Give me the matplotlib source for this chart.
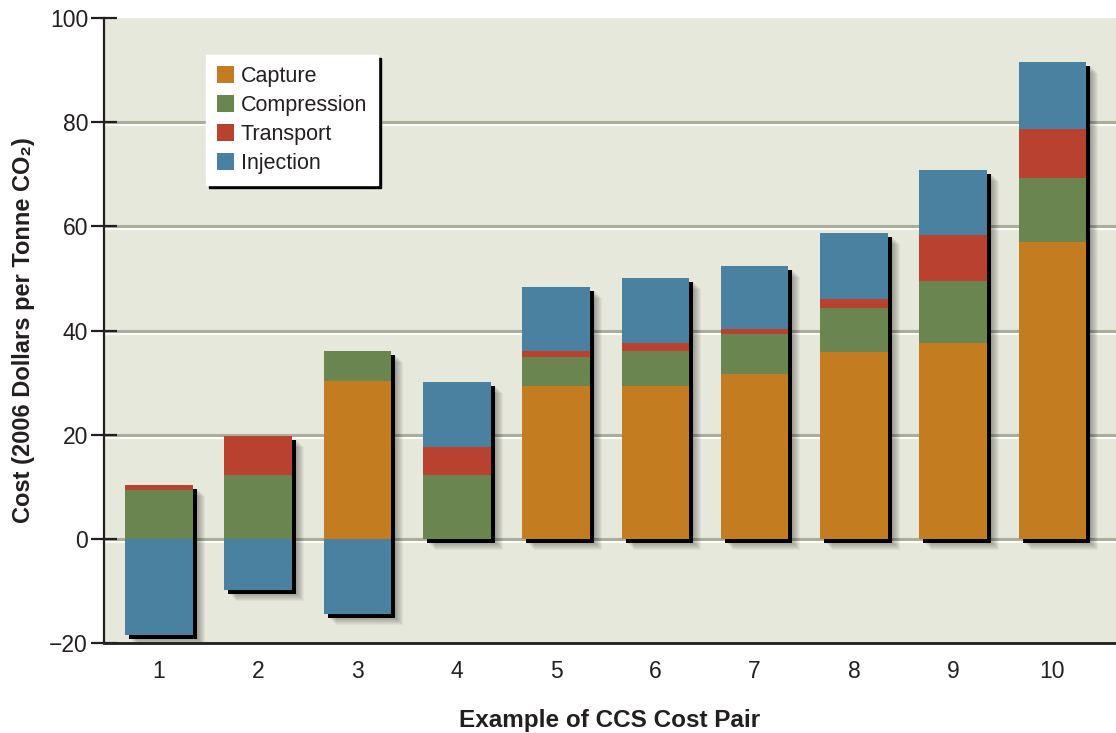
import numpy as np
import matplotlib
matplotlib.use("Agg")
import matplotlib.pyplot as plt
from matplotlib.patches import Rectangle
from matplotlib.transforms import offset_copy

plt.rcParams['font.family'] = ['Liberation Sans', 'DejaVu Sans']

# ---- data ----
pairs = ['1', '2', '3', '4', '5', '6', '7', '8', '9', '10']
capture = [0, 0, 30.3, 0, 29.4, 29.4, 31.7, 35.9, 37.6, 56.9]
compression = [9.4, 12.2, 5.8, 12.3, 5.5, 6.7, 7.7, 8.5, 11.9, 12.3]
transport = [0.9, 7.6, 0, 5.4, 1.2, 1.5, 0.9, 1.7, 8.8, 9.5]
injection = [-18.5, -9.8, -14.4, 12.4, 12.3, 12.5, 12.1, 12.7, 12.5, 12.9]
series = [('Capture', capture, '#c47c20'),
          ('Compression', compression, '#6b8550'),
          ('Transport', transport, '#b84130'),
          ('Injection', injection, '#4a80a0')]
yticks = [-20, 0, 20, 40, 60, 80, 100]

TEXT = '#231f20'
fig = plt.figure(figsize=(11.16, 7.33), dpi=100)
W, H = 1116, 733
ax = fig.add_axes([104 / W, 90 / H, 1012 / W, 625 / H])
ax.set_facecolor('#e7e8dc')

x = np.arange(1, len(pairs) + 1)
width = 0.68
ax.set_xlim(0.447, 10.64)
ax.set_ylim(-20, 100)

# grid lines (embossed look)
for v in yticks[:-1]:
    ax.axhline(v, color='#a9ae9b', lw=2.2, zorder=1)
    ax.plot([0, 1], [v, v], transform=offset_copy(ax.get_yaxis_transform(), fig=fig, x=0, y=-3, units='dots'),
            color='white', lw=1.3, zorder=1)

# stacking
pos_bottom = np.zeros(len(x))
neg_bottom = np.zeros(len(x))
stacks = []
for name, vals, col in series:
    vals = np.array(vals, dtype=float)
    bottom = np.where(vals >= 0, pos_bottom, neg_bottom)
    stacks.append((name, vals, col, bottom))
    pos_bottom = pos_bottom + np.where(vals > 0, vals, 0)
    neg_bottom = neg_bottom + np.where(vals < 0, vals, 0)
tops = pos_bottom
bots = neg_bottom

# shadows
for xi, t, b in zip(x, tops, bots):
    for k in range(8):
        off = 5 + k
        tr = offset_copy(ax.transData, fig=fig, x=off, y=-off + 1, units='dots')
        ax.add_patch(Rectangle((xi - width / 2, b), width, t - b, transform=tr,
                               facecolor='black', alpha=0.045, lw=0, zorder=2))
    tr = offset_copy(ax.transData, fig=fig, x=4, y=-4, units='dots')
    ax.add_patch(Rectangle((xi - width / 2, b), width, t - b, transform=tr,
                           facecolor='black', lw=0, zorder=3))

for name, vals, col, bottom in stacks:
    ax.bar(x, vals, width, bottom=bottom, color=col, label=name, lw=0, zorder=4)

# axes styling
for s in ['top', 'right']:
    ax.spines[s].set_visible(False)
ax.spines['left'].set_linewidth(1.6)
ax.spines['bottom'].set_linewidth(2.0)
ax.spines['left'].set_color('#231f20')
ax.spines['bottom'].set_color('#231f20')
ax.spines['left'].set_zorder(6)
ax.spines['bottom'].set_zorder(6)

ax.set_yticks(yticks)
ax.set_xticks(x)
ax.set_xticklabels(pairs)
ax.tick_params(axis='y', direction='inout', length=19, width=1.6, color='#231f20',
               labelsize=16.5, labelcolor=TEXT, pad=2)
ax.tick_params(axis='x', length=0, labelsize=16.5, labelcolor=TEXT, pad=12)

ax.set_xlabel('Example of CCS Cost Pair', fontsize=17.5, fontweight='bold', color=TEXT, labelpad=19)
ax.set_ylabel('Cost (2006 Dollars per Tonne CO\u2082)', fontsize=17, fontweight='bold', color=TEXT, labelpad=10)

leg = ax.legend(loc='upper left', bbox_to_anchor=(0.1008, 0.941), borderaxespad=0,
                fontsize=15.5, handlelength=0.82, handleheight=0.82, handletextpad=0.3,
                labelspacing=0.38, borderpad=0.5, fancybox=False, framealpha=1,
                edgecolor='white', facecolor='white',
                shadow={'color': 'black', 'alpha': 1})
for t in leg.get_texts():
    t.set_color(TEXT)
leg.set_zorder(7)

fig.savefig('out.png', dpi=100)
